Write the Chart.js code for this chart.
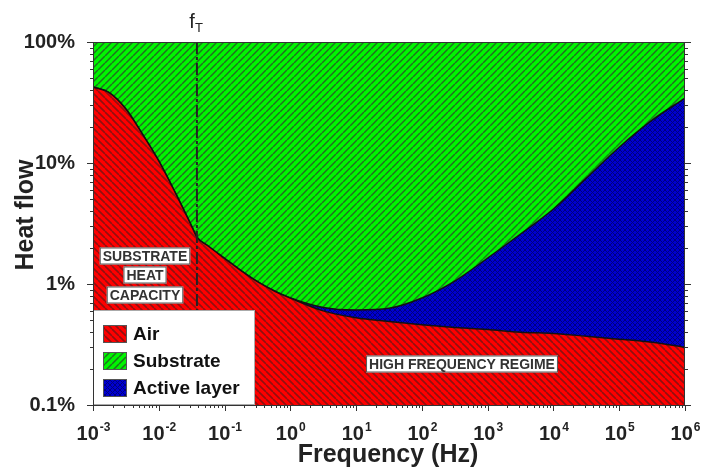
<!DOCTYPE html>
<html>
<head>
<meta charset="utf-8">
<script src="https://cdn.jsdelivr.net/npm/chart.js@4.4.0/dist/chart.umd.min.js"></script>
<style>
  html, body { margin: 0; padding: 0; background: #fff; }
</style>
</head>
<body>
<canvas id="chart" width="703" height="468"></canvas>
<script>
// frequencies (Hz): quarter decades up to 1 Hz (plus f_T), half decades above
const freqs = [1e-3, 1.78e-3, 3.16e-3, 5.62e-3, 1e-2, 1.78e-2, 3.16e-2, 0.038, 5.62e-2,
               1e-1, 1.78e-1, 3.16e-1, 5.62e-1, 1, 3.16, 10, 31.6, 100, 316,
               1e3, 3.16e3, 1e4, 3.16e4, 1e5, 3.16e5, 1e6];
// heat flow share (%)
const air         = [42.5, 37.9, 27.9, 17.4, 10.4, 5.69, 3.01, 2.44, 2.06,
                     1.63, 1.29, 1.045, 0.88, 0.766, 0.60, 0.525, 0.49, 0.46, 0.437,
                     0.42, 0.40, 0.39, 0.37, 0.35, 0.33, 0.30];
const activeLayer = [0, 0, 0, 0, 0, 0, 0, 0, 0,
                     0, 0, 0, 0, 0, 0.04, 0.085, 0.14, 0.306, 0.62,
                     1.22, 2.19, 3.78, 7.13, 13.15, 22.27, 34.1];
// substrate takes the rest
const substrate = air.map((a, i) => 100 - a - activeLayer[i]);

const seriesNames = ['Air', 'Substrate', 'Active layer'];
const fT = 0.038;
const yTickValues = [0.1, 1, 10, 100];
const yTickLabels = ['0.1%', '1%', '10%', '100%'];
const xTickExponents = [-3, -2, -1, 0, 1, 2, 3, 4, 5, 6];
const regionLabels = ['SUBSTRATE', 'HEAT', 'CAPACITY'];
const highFreqLabel = 'HIGH FREQUENCY REGIME';

const FONT = "'Liberation Sans', Arial, sans-serif";
const canvas = document.getElementById('chart');
const ctx = canvas.getContext('2d');

function makePattern(base, line, dirs, size, lw) {
  const c = document.createElement('canvas');
  c.width = size; c.height = size;
  const g = c.getContext('2d');
  g.fillStyle = base;
  g.fillRect(0, 0, size, size);
  g.strokeStyle = line;
  g.lineWidth = lw;
  dirs.forEach(d => {
    g.beginPath();
    for (const o of [-size, 0, size]) {
      if (d === '/') { g.moveTo(o, size); g.lineTo(o + size, 0); }
      else { g.moveTo(o, 0); g.lineTo(o + size, size); }
    }
    g.stroke();
  });
  return ctx.createPattern(c, 'repeat');
}

const redFill = makePattern('#ff0000', '#901010', ['\\'], 7, 1.6);
const greenFill = makePattern('#00f500', '#207020', ['/'], 7, 1.5);
const blueFill = makePattern('#0000d0', '#000080', ['/', '\\'], 5, 1);
const fills = [redFill, greenFill, blueFill];

const pts = vals => freqs.map((f, i) => ({ x: f, y: vals[i] }));
const airTop = air;
const activeTop = air.map((a, i) => a + activeLayer[i]);
const substrateTop = activeTop.map((t, i) => t + substrate[i]);

function logTicks(e0, e1) {
  const t = [];
  for (let e = e0; e <= e1; e++) {
    for (let m = 1; m <= 9; m++) {
      if (e === e1 && m > 1) break;
      t.push({ value: m * Math.pow(10, e) });
    }
  }
  return t;
}
const isMajor = v => Math.abs(Math.log10(v) - Math.round(Math.log10(v))) < 1e-9;

const decorPlugin = {
  id: 'decor',
  afterDatasetsDraw(chart) {
    const { ctx, chartArea: a, scales: { x } } = chart;
    ctx.save();
    // f_T line
    const lx = x.getPixelForValue(fT);
    ctx.strokeStyle = '#222';
    ctx.lineWidth = 2;
    ctx.setLineDash([12, 3, 3, 3]);
    ctx.beginPath();
    ctx.moveTo(lx, a.top);
    ctx.lineTo(lx, a.bottom);
    ctx.stroke();
    ctx.setLineDash([]);

    // boxed labels
    ctx.font = 'bold 14px ' + FONT;
    ctx.textAlign = 'center';
    ctx.textBaseline = 'middle';
    const box = (txt, cx, cy) => {
      const w = ctx.measureText(txt).width + 6;
      ctx.fillStyle = '#fff';
      ctx.fillRect(cx - w / 2, cy - 8.5, w, 17);
      ctx.strokeStyle = '#555';
      ctx.lineWidth = 1;
      ctx.strokeRect(cx - w / 2 + 0.5, cy - 8, w - 1, 16);
      ctx.fillStyle = '#333';
      ctx.fillText(txt, cx, cy + 1);
    };
    [256, 275, 295].forEach((cy, i) => box(regionLabels[i], 145, cy));
    box(highFreqLabel, 462, 364);

    // legend
    const lx0 = a.left, ly0 = 310, lw = 162, lh = a.bottom - 310;
    ctx.fillStyle = '#fff';
    ctx.fillRect(lx0, ly0, lw, lh);
    ctx.strokeStyle = '#aaa';
    ctx.strokeRect(lx0 + 0.5, ly0 + 0.5, lw - 1, lh - 1);
    ctx.font = 'bold 19px ' + FONT;
    ctx.textAlign = 'left';
    ctx.textBaseline = 'middle';
    [334, 361, 388].forEach((cy, i) => {
      ctx.fillStyle = fills[i];
      ctx.fillRect(103, cy - 9, 24, 18);
      ctx.strokeStyle = '#555';
      ctx.strokeRect(103.5, cy - 8.5, 23, 17);
      ctx.fillStyle = '#111';
      ctx.fillText(seriesNames[i], 133, cy + 1);
    });
    ctx.restore();
  },
  afterDraw(chart) {
    const { ctx, chartArea: a, scales: { x, y } } = chart;
    ctx.save();
    ctx.strokeStyle = '#333';
    ctx.lineWidth = 1;
    ctx.strokeRect(a.left + 0.5, a.top + 0.5, a.right - a.left - 1, a.bottom - a.top);

    // tick marks
    ctx.beginPath();
    y.ticks.forEach(t => {
      const py = Math.round(y.getPixelForValue(t.value)) + 0.5;
      const len = isMajor(t.value) ? 6 : 3;
      ctx.moveTo(a.left, py); ctx.lineTo(a.left - len, py);
      ctx.moveTo(a.right, py); ctx.lineTo(a.right + len, py);
    });
    x.ticks.forEach(t => {
      const px = Math.round(x.getPixelForValue(t.value)) + 0.5;
      const len = isMajor(t.value) ? 6 : 3;
      ctx.moveTo(px, a.bottom); ctx.lineTo(px, a.bottom + len);
    });
    ctx.stroke();

    // x tick labels 10^n
    ctx.fillStyle = '#222';
    ctx.textBaseline = 'alphabetic';
    ctx.textAlign = 'left';
    xTickExponents.forEach(e => {
      const px = x.getPixelForValue(Math.pow(10, e));
      ctx.font = 'bold 20px ' + FONT;
      const wb = ctx.measureText('10').width;
      ctx.font = 'bold 12px ' + FONT;
      const we = ctx.measureText(String(e)).width;
      const x0 = px - (wb + we) / 2;
      ctx.font = 'bold 20px ' + FONT;
      ctx.fillText('10', x0, 440);
      ctx.font = 'bold 12px ' + FONT;
      ctx.fillText(String(e), x0 + wb + 1, 431);
    });

    // axis titles
    ctx.font = 'bold 25px ' + FONT;
    ctx.textAlign = 'center';
    ctx.fillText('Frequency (Hz)', 388, 462);
    ctx.save();
    ctx.translate(33, 215);
    ctx.rotate(-Math.PI / 2);
    ctx.fillText('Heat flow', 0, 0);
    ctx.restore();

    // f_T label
    const lx = x.getPixelForValue(fT);
    ctx.textAlign = 'left';
    ctx.font = '20px ' + FONT;
    const wf = ctx.measureText('f').width;
    ctx.fillText('f', lx - wf - 2, 28);
    ctx.font = '13px ' + FONT;
    ctx.fillText('T', lx - 2, 32);
    ctx.restore();
  }
};

new Chart(ctx, {
  type: 'line',
  data: {
    datasets: [
      {
        label: seriesNames[0],
        data: pts(airTop),
        fill: 'start',
        backgroundColor: redFill,
        borderColor: '#111',
        borderWidth: 1.5
      },
      {
        label: seriesNames[2],
        data: pts(activeTop),
        fill: '-1',
        backgroundColor: blueFill,
        borderColor: '#111',
        borderWidth: 1.5
      },
      {
        label: seriesNames[1],
        data: pts(substrateTop),
        fill: '-1',
        backgroundColor: greenFill,
        borderColor: 'rgba(0,0,0,0)',
        borderWidth: 0
      }
    ]
  },
  options: {
    responsive: false,
    animation: false,
    cubicInterpolationMode: 'monotone',
    elements: { point: { radius: 0 } },
    layout: { padding: { left: 0, right: 18, top: 42, bottom: 0 } },
    plugins: {
      legend: { display: false },
      tooltip: { enabled: false }
    },
    scales: {
      x: {
        type: 'logarithmic',
        min: 1e-3,
        max: 1e6,
        afterBuildTicks: s => { s.ticks = logTicks(-3, 6); },
        afterFit: s => { s.height = 63; },
        grid: { display: false },
        border: { display: true, color: '#333' },
        ticks: { display: false }
      },
      y: {
        type: 'logarithmic',
        min: 0.1,
        max: 100,
        afterBuildTicks: s => { s.ticks = logTicks(-1, 2); },
        afterFit: s => { s.width = 93; },
        grid: { display: false },
        border: { display: true, color: '#333' },
        ticks: {
          autoSkip: false,
          padding: 10,
          color: '#222',
          font: { family: FONT, size: 20, weight: 'bold' },
          callback: v => {
            const i = yTickValues.findIndex(t => Math.abs(t - v) < 1e-9 * t);
            return i >= 0 ? yTickLabels[i] : '';
          }
        }
      }
    }
  },
  plugins: [decorPlugin]
});
</script>
</body>
</html>
